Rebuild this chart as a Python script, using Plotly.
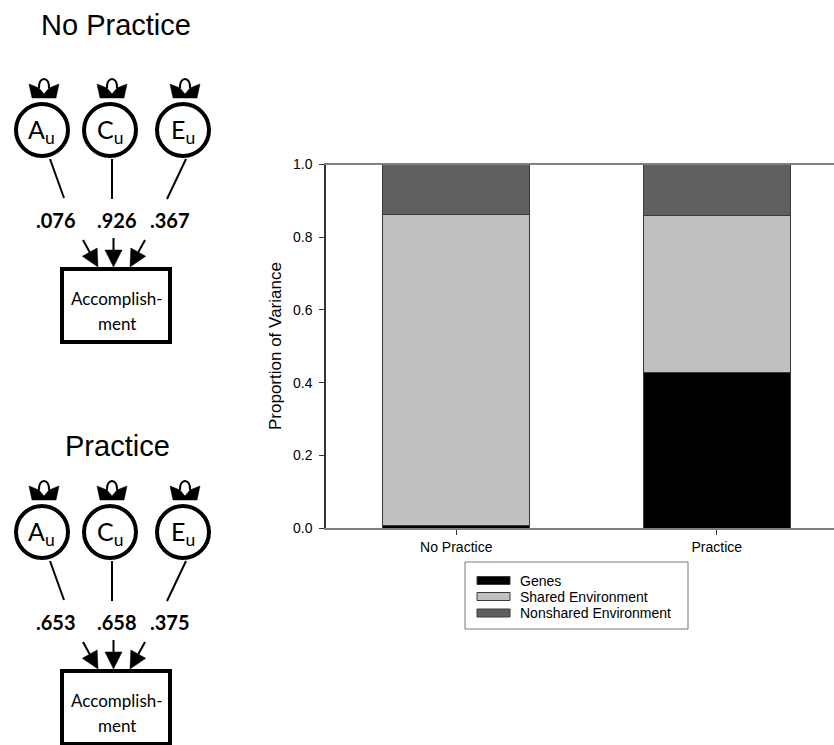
import plotly.graph_objects as go

# ---------------- data ----------------
categories = ["No Practice", "Practice"]
genes = [0.006, 0.427]
shared = [0.857, 0.434]
nonshared = [0.137, 0.139]
series_names = ["Genes", "Shared Environment", "Nonshared Environment"]
series_colors = ["#000000", "#c0c0c0", "#606060"]
y_ticks = [0.0, 0.2, 0.4, 0.6, 0.8, 1.0]
y_title = "Proportion of Variance"

panel_titles = ["No Practice", "Practice"]
path_no_practice = [0.076, 0.926, 0.367]
path_practice = [0.653, 0.658, 0.375]
latent_labels = ["A", "C", "E"]
latent_sub = "u"
outcome_label = ["Accomplish-", "ment"]

# ---------------- layout constants ----------------
W, H = 834, 745
AX_L, AX_R = 326, 834
Y_TOP, Y_BOT = 164.5, 528

fig = go.Figure()
for name, vals, col in zip(series_names, [genes, shared, nonshared], series_colors):
    fig.add_trace(go.Bar(
        x=categories, y=vals, name=name, width=0.564,
        marker=dict(color=col, line=dict(color="#3a3a3a", width=1)),
        showlegend=False, xaxis="x", yaxis="y", hoverinfo="skip"))

# invisible trace for the pixel-coordinate overlay axes (diagram drawing space)
fig.add_trace(go.Scatter(x=[400], y=[400], mode="markers", marker=dict(opacity=0),
                         xaxis="x2", yaxis="y2", showlegend=False, hoverinfo="skip"))

shapes = []
annotations = []

def P(x, y):
    return dict(xref="x2", yref="y2", x=x, y=y)

# ---------------- path diagrams ----------------
circle_cx = [42, 110, 183]
circle_cy = 130
circle_r = 26
line_starts = [(50, 159), (112, 159), (186, 159)]
line_ends = [(64, 198), (112, 199), (167, 199)]
num_x = [55.5, 116.5, 170]
num_y = 220
arrow_s = [(83, 240), (113.5, 238), (145, 240)]
arrow_t = [(98, 267), (113.5, 267), (130, 267)]
box = (62, 269, 170, 342)
title_pos = [(115.5, 25), (117, 446)]
dys = [0, 402]

def arrow(sx, sy, tx, ty, L=17, w=8.5):
    dx, dy = tx - sx, ty - sy
    n = (dx * dx + dy * dy) ** 0.5
    ux, uy = dx / n, dy / n
    bx, by = tx - L * ux, ty - L * uy
    px, py = -uy, ux
    shapes.append(dict(type="line", xref="x2", yref="y2", x0=sx, y0=sy, x1=bx, y1=by,
                       line=dict(color="black", width=2)))
    shapes.append(dict(type="path", xref="x2", yref="y2",
                       path=f"M{tx},{ty} L{bx + w * px},{by + w * py} L{bx - w * px},{by - w * py} Z",
                       fillcolor="black", line=dict(color="black", width=0.5)))

for k, (coefs, dy) in enumerate(zip([path_no_practice, path_practice], dys)):
    tx, ty = title_pos[k]
    annotations.append(dict(**P(tx, ty), text=panel_titles[k], showarrow=False,
                            font=dict(family="Liberation Sans, Arial", size=29, color="black"),
                            xanchor="center", yanchor="middle"))
    for i, cx in enumerate(circle_cx):
        cy = circle_cy + dy
        shapes.append(dict(type="circle", xref="x2", yref="y2",
                           x0=cx - circle_r, x1=cx + circle_r, y0=cy - circle_r, y1=cy + circle_r,
                           line=dict(color="black", width=4), fillcolor="rgba(0,0,0,0)"))
        # self variance loop (double-headed arrow on top of the circle)
        c = cx + 2
        yb = dy
        crown = (f"M{c-15},{yb+84} L{c-5},{yb+88} L{c},{yb+94} L{c+5},{yb+88} "
                 f"L{c+15},{yb+84} L{c+12},{yb+98} L{c-12},{yb+98} Z")
        shapes.append(dict(type="path", xref="x2", yref="y2", path=crown,
                           fillcolor="black", line=dict(color="black", width=0.5)))
        shapes.append(dict(type="path", xref="x2", yref="y2",
                           path=f"M{c-5},{yb+88} C{c-6},{yb+76} {c+6},{yb+76} {c+5},{yb+88}",
                           line=dict(color="black", width=2)))
        annotations.append(dict(**P(cx - 0.5, cy + 1), text=f"{latent_labels[i]}<sub>{latent_sub}</sub>",
                                showarrow=False, font=dict(family="Lato", size=25, color="black"),
                                xanchor="center", yanchor="middle"))
        (x0, y0), (x1, y1) = line_starts[i], line_ends[i]
        shapes.append(dict(type="line", xref="x2", yref="y2", x0=x0, y0=y0 + dy, x1=x1, y1=y1 + dy,
                           line=dict(color="black", width=2)))
        lab = f"{coefs[i]:.3f}".lstrip("0")
        annotations.append(dict(**P(num_x[i], num_y + dy), text=f"<b>{lab}</b>", showarrow=False,
                                font=dict(family="Lato", size=20, color="black"),
                                xanchor="center", yanchor="middle"))
        (sx, sy), (ex, ey) = arrow_s[i], arrow_t[i]
        arrow(sx, sy + dy, ex, ey + dy)
    bx0, by0, bx1, by1 = box
    shapes.append(dict(type="rect", xref="x2", yref="y2", x0=bx0, y0=by0 + dy, x1=bx1, y1=by1 + dy,
                       line=dict(color="black", width=4), fillcolor="rgba(0,0,0,0)"))
    annotations.append(dict(**P(117, 298 + dy), text=outcome_label[0], showarrow=False,
                            font=dict(family="Lato", size=17, color="black")))
    annotations.append(dict(**P(117, 323 + dy), text=outcome_label[1], showarrow=False,
                            font=dict(family="Lato", size=17, color="black")))

# ---------------- y axis title ----------------
annotations.append(dict(**P(275, 346), text=y_title, textangle=-90, showarrow=False,
                        font=dict(family="Liberation Sans, Arial", size=17, color="black")))

# ---------------- legend (boxed, wide swatches) ----------------
shapes.append(dict(type="rect", xref="x2", yref="y2", x0=465, y0=562, x1=688, y1=629,
                   line=dict(color="#777777", width=1), fillcolor="white"))
leg_y = [580.5, 596.5, 613]
for name, col, ly in zip(series_names, series_colors, leg_y):
    shapes.append(dict(type="rect", xref="x2", yref="y2", x0=477, x1=510, y0=ly - 4, y1=ly + 4,
                       line=dict(color="#3a3a3a", width=1), fillcolor=col))
    annotations.append(dict(**P(518, ly), text=name, showarrow=False, xanchor="left", yanchor="middle",
                            font=dict(family="Liberation Sans, Arial", size=14, color="black")))

fig.update_layout(
    template="none",
    width=W, height=H, margin=dict(l=0, r=0, t=0, b=0, pad=0, autoexpand=False),
    paper_bgcolor="white", plot_bgcolor="rgba(0,0,0,0)",
    barmode="stack", showlegend=False,
    font=dict(family="Liberation Sans, Arial", color="black"),
    xaxis=dict(domain=[AX_L / W, AX_R / W], range=[-0.5, 1.45], type="category",
               showline=True, linecolor="#808080", linewidth=1.5, mirror=True, automargin=False,
               ticks="outside", ticklen=5, tickcolor="#333333", showgrid=False, zeroline=False,
               tickfont=dict(size=14, family="Liberation Sans, Arial", color="black"), anchor="y"),
    yaxis=dict(domain=[1 - Y_BOT / H, 1 - Y_TOP / H], range=[0, 1], automargin=False,
               tickvals=y_ticks, ticktext=[f"{v:.1f}" for v in y_ticks],
               showline=True, linecolor="#333333", linewidth=1.5,
               ticks="outside", ticklen=5, tickcolor="#333333", showgrid=False, zeroline=False,
               ticklabelstandoff=4,
               tickfont=dict(size=14, family="Liberation Sans, Arial", color="black"), anchor="x"),
    xaxis2=dict(domain=[0, 1], range=[0, W], visible=False, anchor="y2", fixedrange=True, automargin=False),
    yaxis2=dict(domain=[0, 1], range=[H, 0], visible=False, anchor="x2", fixedrange=True, automargin=False),
    shapes=shapes, annotations=annotations,
)

fig.write_html(
    "out.html",
    config={"displayModeBar": False},
    post_script="document.body.style.margin='0';document.body.style.padding='0';",
)
